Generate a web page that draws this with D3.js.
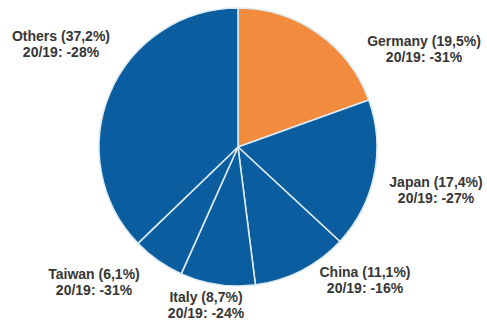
<!DOCTYPE html>
<html>
<head>
<meta charset="utf-8">
<script src="https://cdn.jsdelivr.net/npm/d3@7"></script>
<style>
  html, body { margin: 0; padding: 0; background: #fff; }
  svg { display: block; }
</style>
</head>
<body>
<svg id="chart" width="487" height="323"></svg>
<script>
// Share of exports by country, with change 2020 vs 2019
const countries = ["Germany", "Japan", "China", "Italy", "Taiwan", "Others"];
const shares    = [19.5, 17.4, 11.1, 8.7, 6.1, 37.2];
const changes   = [-31, -27, -16, -24, -31, -28];

const fmtShare = d => d3.format(".1f")(d).replace(".", ",");

const width = 487, height = 323;
const cx = 238, cy = 147, radius = 139;

// Label anchors (centre of the two-line block, first baseline)
const labelPos = {
  Germany: [424, 46],
  Japan:   [436, 187],
  China:   [365, 277],
  Italy:   [206, 302],
  Taiwan:  [94, 279],
  Others:  [61, 41]
};

const data = countries.map((c, i) => ({ country: c, share: shares[i], change: changes[i] }));

const svg = d3.select("#chart");

const pie = d3.pie().value(d => d.share).sort(null);
const arc = d3.arc().innerRadius(0).outerRadius(radius);

const color = d => d.country === "Germany" ? "#f38b3e" : "#0a5d9f";

const g = svg.append("g").attr("transform", `translate(${cx},${cy})`);

g.selectAll("path")
  .data(pie(data))
  .join("path")
  .attr("d", arc)
  .attr("fill", d => color(d.data))
  .attr("stroke", "#dcebf3")
  .attr("stroke-width", 1.6)
  .attr("stroke-linejoin", "round");

const labels = svg.append("g")
  .attr("font-family", "'Liberation Sans', Arial, sans-serif")
  .attr("font-size", 14)
  .attr("font-weight", "bold")
  .attr("fill", "#363636")
  .attr("text-anchor", "middle");

data.forEach(d => {
  const [x, y] = labelPos[d.country];
  const t = labels.append("text").attr("x", x).attr("y", y);
  t.append("tspan").attr("x", x).text(`${d.country} (${fmtShare(d.share)}%)`);
  t.append("tspan").attr("x", x).attr("dy", 16).text(`20/19: ${d.change}%`);
});
</script>
</body>
</html>
